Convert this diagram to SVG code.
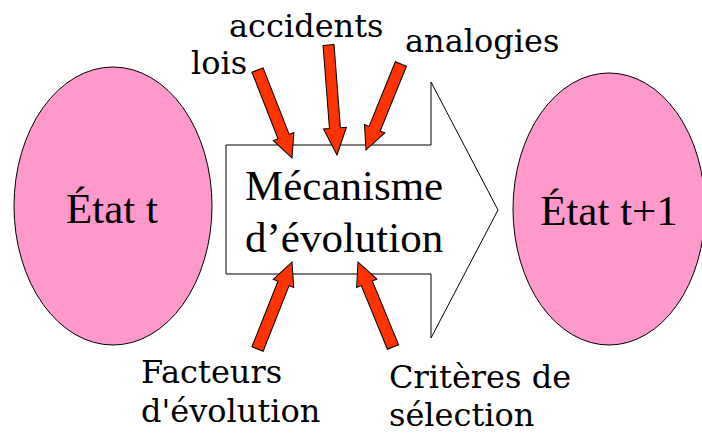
<svg xmlns="http://www.w3.org/2000/svg" width="702" height="433" viewBox="0 0 702 433">
<style>
.state{fill:#FF99CC;stroke:#000;stroke-width:1}
.block{fill:#fff;stroke:#000;stroke-width:1}
.arr{fill:#FF3300;stroke:#000;stroke-width:1;stroke-linejoin:miter}
.big{font-family:'Liberation Serif','Times New Roman',serif;font-size:43px;fill:#000}
.lbl{font-family:'DejaVu Serif',serif;font-size:32px;fill:#000}
</style>
<rect width="702" height="433" fill="#fff"/>
<g id="etat-t">
<ellipse class="state" cx="113" cy="206" rx="99" ry="139"/>
<text class="big" x="112" y="223" text-anchor="middle">État t</text>
</g>
<g id="etat-t1">
<ellipse class="state" cx="609" cy="209" rx="96" ry="136"/>
<text class="big" x="609" y="225" text-anchor="middle">État t+1</text>
</g>
<g id="mecanisme">
<polygon class="block" points="226,145 431,145 431,82 498,210 431,338 431,274 226,274"/>
<text class="big" x="245" y="200">Mécanisme</text>
<text class="big" x="245" y="252">d’évolution</text>
</g>
<g id="labels">
<text class="lbl" x="191" y="74">lois</text>
<text class="lbl" x="229" y="37">accidents</text>
<text class="lbl" x="405" y="52">analogies</text>
<text class="lbl" x="141" y="383">Facteurs</text>
<text class="lbl" x="141" y="422">d'évolution</text>
<text class="lbl" x="389" y="388">Critères de</text>
<text class="lbl" x="389" y="426">sélection</text>
</g>
<g id="connectors">
<path class="arr" transform="translate(292,158) rotate(68.6)" d="M0,0 L-23,-11 L-23,-6 L-94.5,-6 L-94.5,6 L-23,6 L-23,11 Z"/>
<path class="arr" transform="translate(337,155) rotate(85.6)" d="M0,0 L-27,-11.5 L-27,-5.5 L-110.3,-5.5 L-110.3,5.5 L-27,5.5 L-27,11.5 Z"/>
<path class="arr" transform="translate(366,150) rotate(112.1)" d="M0,0 L-23,-11 L-23,-6 L-92.8,-6 L-92.8,6 L-23,6 L-23,11 Z"/>
<path class="arr" transform="translate(292,262) rotate(-68.4)" d="M0,0 L-23,-11 L-23,-6 L-93.6,-6 L-93.6,6 L-23,6 L-23,11 Z"/>
<path class="arr" transform="translate(358,262) rotate(-112.4)" d="M0,0 L-23,-11 L-23,-6 L-91.9,-6 L-91.9,6 L-23,6 L-23,11 Z"/>
</g>
</svg>
